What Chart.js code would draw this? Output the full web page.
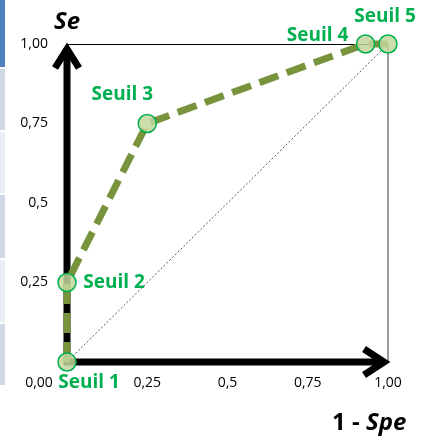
<!DOCTYPE html>
<html>
<head>
<meta charset="utf-8">
<script src="https://cdn.jsdelivr.net/npm/chart.js@4"></script>
<style>
  body { margin: 0; background: #fff; }
  #wrap { position: relative; width: 432px; height: 441px; }
  .band { position: absolute; left: 0; width: 5px; }
</style>
</head>
<body>
<div id="wrap">
  <div class="band" style="top:0;height:67px;background:#4f81bd"></div>
  <div class="band" style="top:69px;height:61px;background:#d0d8e8"></div>
  <div class="band" style="top:132px;height:61px;background:#e9edf4"></div>
  <div class="band" style="top:195px;height:63px;background:#d0d8e8"></div>
  <div class="band" style="top:260px;height:62px;background:#e9edf4"></div>
  <div class="band" style="top:324px;height:61px;background:#d0d8e8"></div>
  <canvas id="roc" width="432" height="441"></canvas>
</div>
<script>
// Data
const seuils = ['Seuil 1', 'Seuil 2', 'Seuil 3', 'Seuil 4', 'Seuil 5']
const fauxPositifs = [0, 0, 0.25, 0.93, 1]      // 1 - Spe
const sensibilite = [0, 0.25, 0.75, 1, 1]        // Se
const tickValues = [0, 0.25, 0.5, 0.75, 1]
const tickLabels = ['0,00', '0,25', '0,5', '0,75', '1,00']

// label offsets (px) for each threshold name
const labelOffsets = [[22, 21], [47, 0], [-25, -29], [-48, -8], [-3, -27]]

const green = '#00b050'
const olive = '#77933c'
const font = '"Open Sans", sans-serif'

const ctx = document.getElementById('roc').getContext('2d')

function tickText(value) {
    const i = tickValues.indexOf(value)
    if (i <= 0) return ''
    return tickLabels[i]
}

// axes with arrows, frame, titles, threshold names
const decor = {
    id: 'decor',
    beforeDatasetsDraw(chart) {
        const c = chart.ctx
        const x = chart.scales.x
        const y = chart.scales.y
        const x0 = x.getPixelForValue(0), x1 = x.getPixelForValue(1)
        const y0 = y.getPixelForValue(0), y1 = y.getPixelForValue(1)
        c.save()
        // frame
        c.lineWidth = 1
        c.strokeStyle = '#000'
        c.beginPath(); c.moveTo(x0, y1 + 0.5); c.lineTo(x1, y1 + 0.5); c.stroke()
        c.strokeStyle = '#7f7f7f'
        c.lineWidth = 1.5
        c.beginPath(); c.moveTo(x1, y1); c.lineTo(x1, y0); c.stroke()
        // axes
        c.strokeStyle = '#000'
        c.lineWidth = 7
        c.lineCap = 'butt'
        c.beginPath(); c.moveTo(x0, y0 + 3); c.lineTo(x0, y1 + 4); c.stroke()
        c.beginPath(); c.moveTo(x0 - 3, y0); c.lineTo(x1 - 4, y0); c.stroke()
        c.lineJoin = 'miter'
        c.beginPath()
        c.moveTo(x0 - 12, y1 + 24); c.lineTo(x0, y1 + 5); c.lineTo(x0 + 12, y1 + 24)
        c.stroke()
        c.beginPath()
        c.moveTo(x1 - 24, y0 - 13); c.lineTo(x1 - 4, y0); c.lineTo(x1 - 24, y0 + 13)
        c.stroke()
        c.restore()
    },
    afterDatasetsDraw(chart) {
        const c = chart.ctx
        const x = chart.scales.x
        const y = chart.scales.y
        c.save()
        // threshold names
        c.fillStyle = green
        c.font = 'bold 19px ' + font
        c.textAlign = 'center'
        c.textBaseline = 'middle'
        seuils.forEach((s, i) => {
            const px = x.getPixelForValue(fauxPositifs[i]) + labelOffsets[i][0]
            const py = y.getPixelForValue(sensibilite[i]) + labelOffsets[i][1]
            c.fillText(s, px, py)
        })
        // origin label
        c.fillStyle = '#000'
        c.font = '14px ' + font
        c.fillText(tickLabels[0], x.getPixelForValue(0) - 28, y.getPixelForValue(0) + 21)
        // axis titles
        c.font = 'bold italic 24px ' + font
        c.fillText('Se', 67, 22)
        c.textAlign = 'left'
        c.font = 'bold 24px ' + font
        const w = c.measureText('1 - ').width
        c.fillText('1 - ', 332, 423)
        c.font = 'bold italic 24px ' + font
        c.fillText('Spe', 332 + w, 423)
        c.restore()
    }
}

const chart = new Chart(ctx, {
    type: 'scatter',
    data: {
        datasets: [{
            label: 'ROC',
            data: fauxPositifs.map((v, i) => ({ x: v, y: sensibilite[i] })),
            showLine: true,
            clip: false,
            borderColor: olive,
            borderWidth: 7,
            borderDash: [20, 9],
            pointRadius: 9,
            pointBackgroundColor: 'rgba(195, 214, 155, 0.85)',
            pointBorderColor: green,
            pointBorderWidth: 1.5,
            order: 1
        }, {
            label: 'Diagonale',
            data: [{ x: 0, y: 0 }, { x: 1, y: 1 }],
            showLine: true,
            borderColor: '#555',
            borderWidth: 1,
            borderDash: [2, 2],
            pointRadius: 0,
            order: 2
        }]
    },
    options: {
        responsive: false,
        animation: false,
        layout: { padding: { top: 44, right: 44, left: 0, bottom: 0 } },
        plugins: { legend: { display: false }, tooltip: { enabled: false } },
        scales: {
            x: {
                type: 'linear', min: 0, max: 1,
                afterFit: s => { s.height = 79 },
                afterBuildTicks: s => { s.ticks = tickValues.map(v => ({ value: v })) },
                grid: { display: false, drawTicks: false },
                border: { display: false },
                ticks: { callback: tickText, padding: 13, color: '#000', font: { family: font, size: 14 }, maxRotation: 0, autoSkip: false }
            },
            y: {
                type: 'linear', min: 0, max: 1,
                afterFit: s => { s.width = 67 },
                afterBuildTicks: s => { s.ticks = tickValues.map(v => ({ value: v })) },
                grid: { display: false, drawTicks: false },
                border: { display: false },
                ticks: { callback: tickText, padding: 19, color: '#000', font: { family: font, size: 14 }, autoSkip: false }
            }
        }
    },
    plugins: [decor]
})
</script>
</body>
</html>
